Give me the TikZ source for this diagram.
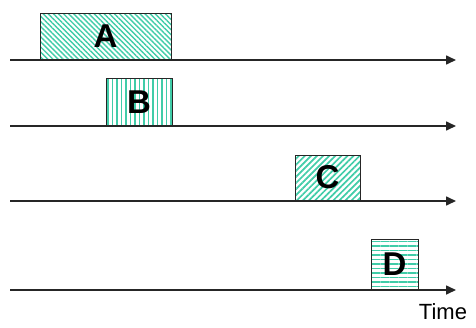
\documentclass[tikz,border=0pt]{standalone}
\usepackage{fontspec}
\setmainfont{Liberation Sans}
\usetikzlibrary{arrows.meta,patterns.meta}
\definecolor{stripe}{RGB}{64,204,168}

\begin{document}
\begin{tikzpicture}[x=1pt,y=-1pt,>={Triangle[length=10pt,width=9pt]},
  job/.style={draw=black!85,line width=0.9pt,inner sep=0pt,pattern color=stripe,
    font=\bfseries\fontsize{33}{33}\selectfont},
  axis/.style={draw=black!85,line width=1.6pt,->}]
  \useasboundingbox (0,0) rectangle (476,327);
  % time axes, one per job
  \foreach \n/\y in {1/60,2/126,3/201,4/290}{
    \coordinate (s\n) at (10,\y);
    \coordinate (e\n) at (456,\y);
    \draw[axis] (s\n) -- (e\n);
  }
  \node[job,minimum width=131,minimum height=46,
    pattern={Lines[angle=-45,distance=3.6pt,line width=1.4pt]}] (a) at (105.5,36.5) {A};
  \node[job,minimum width=66,minimum height=47,
    pattern={Lines[angle=90,distance=4.5pt,line width=1.8pt]}] (b) at (139,102) {B};
  \node[job,minimum width=65,minimum height=45,
    pattern={Lines[angle=45,distance=4.3pt,line width=1.7pt]}] (c) at (327.5,177.5) {C};
  \node[job,minimum width=47,minimum height=50,
    pattern={Lines[angle=0,distance=4.5pt,line width=1.8pt]}] (d) at (394.5,264.5) {D};
  \node[font=\fontsize{22}{22}\selectfont] (time) at (443,312) {Time};
\end{tikzpicture}
\end{document}
